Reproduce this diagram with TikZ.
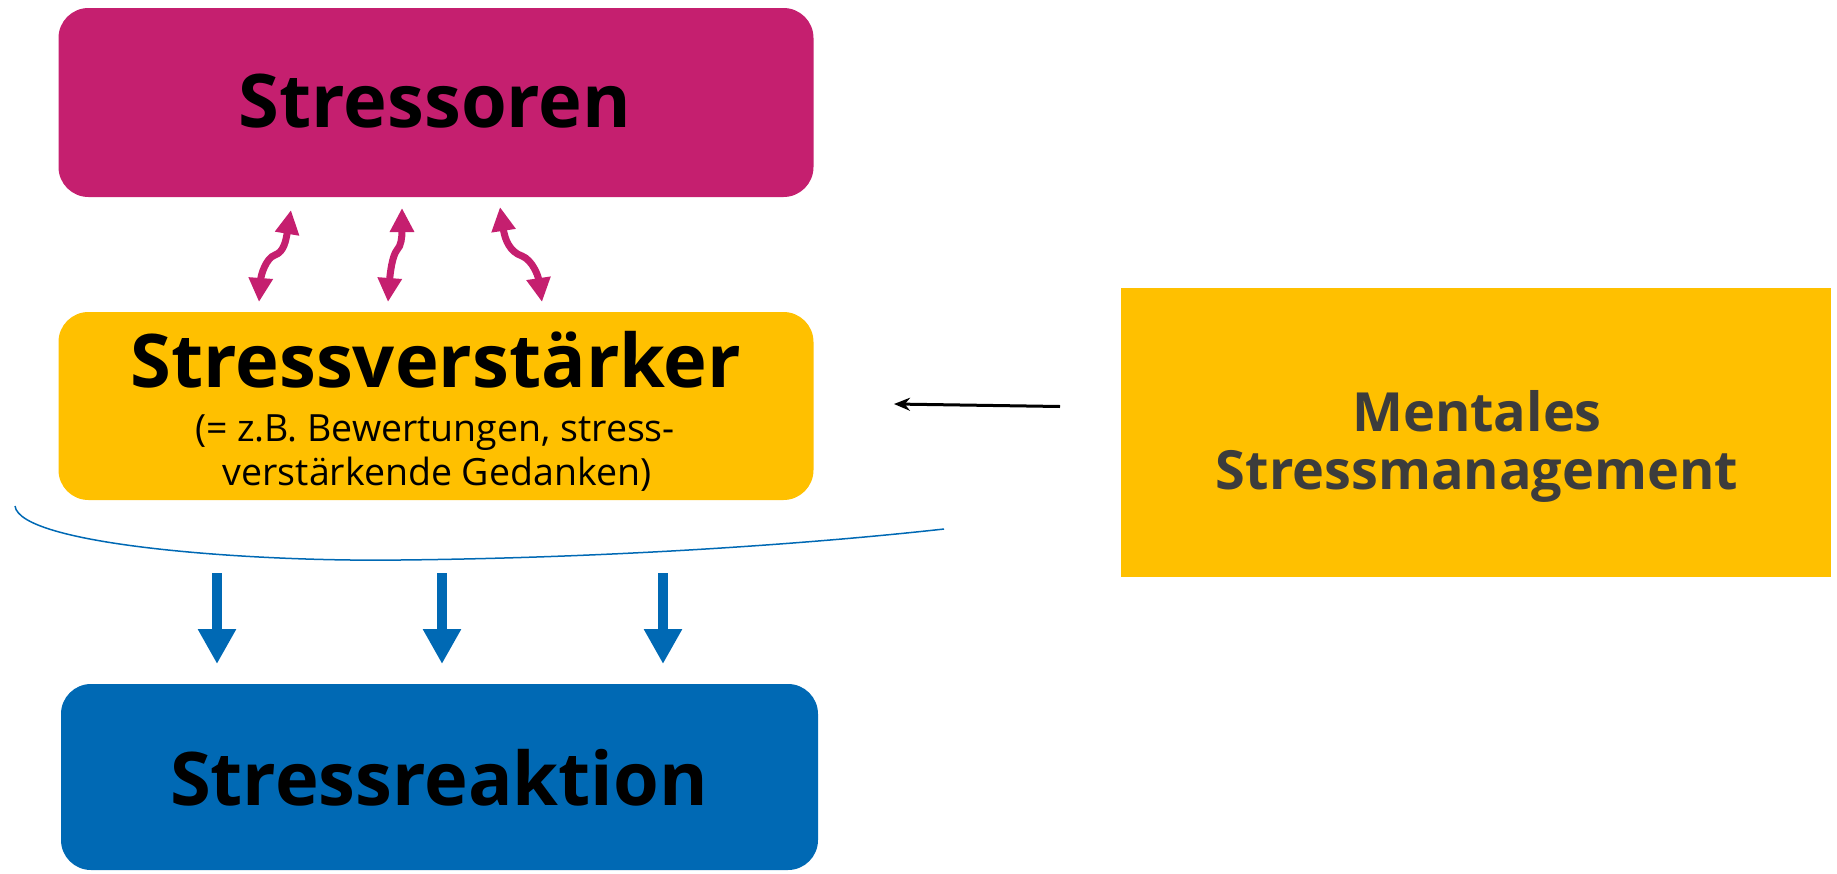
\documentclass[tikz,border=0pt]{standalone}
\usepackage{fontspec}
\setmainfont{Open Sans}
\usetikzlibrary{arrows.meta}

\definecolor{stressmagenta}{HTML}{C51F6F}
\definecolor{stressyellow}{HTML}{FFC000}
\definecolor{stressblue}{HTML}{0069B4}
\definecolor{stressgray}{HTML}{3C3C3C}

\begin{document}
\begin{tikzpicture}[x=1pt, y=-1pt]
        % Box sizes (in pixels of the original)
        \pgfmathsetmacro{\boxwidth}{755}
        \pgfmathsetmacro{\boxheight}{189}
        \pgfmathsetmacro{\radius}{30}

        \useasboundingbox (0, 0) rectangle (1837, 873);

        % Three stacked boxes on the left
        \begin{scope}[inner sep=0pt, rounded corners=\radius pt]
            \node[fill=stressmagenta, minimum width=\boxwidth pt, minimum height=\boxheight pt] (stressors) at (436, 102.5) {};
            \node[fill=stressyellow, minimum width=\boxwidth pt, minimum height=188pt] (amplifier) at (436, 406) {};
            \node[fill=stressblue, minimum width=757pt, minimum height=186pt] (reaction) at (439.5, 777) {};
        \end{scope}

        % Management box on the right, square corners
        \node[fill=stressyellow, inner sep=0pt, minimum width=710pt, minimum height=289pt] (management) at (1476, 432.5) {};

        % Texts, placed on their base lines
        \begin{scope}[anchor=base, font=\fontsize{74}{80}\selectfont\bfseries]
            \node (stressorsText) at (435, 127.5) {Stressoren};
            \node (amplifierText) at (436, 387) {Stressverstärker};
            \node (reactionText) at (439, 805) {Stressreaktion};
        \end{scope}
        \begin{scope}[anchor=base, font=\fontsize{37.5}{42}\selectfont]
            \node (amplifierSub1) at (435, 441) {(= z.B. Bewertungen, stress-};
            \node (amplifierSub2) at (437, 485) {verstärkende Gedanken)};
        \end{scope}
        \begin{scope}[anchor=base, text=stressgray, font=\fontsize{54}{58}\selectfont\bfseries]
            \node (managementText1) at (1477, 431) {Mentales};
            \node (managementText2) at (1477, 489) {Stressmanagement};
        \end{scope}

        % Ends of the curved double arrows
        \coordinate (T1) at (291, 210);
        \coordinate (B1) at (259, 302);
        \coordinate (T2) at (402, 208);
        \coordinate (B2) at (388, 302);
        \coordinate (T3) at (500, 207);
        \coordinate (B3) at (542, 302);

        \begin{scope}[stressmagenta, line width=7pt, {Triangle[length=24pt, width=23pt]}-{Triangle[length=24pt, width=23pt]}]
            \draw (T1) .. controls (286, 240) and (284, 252) .. (275, 255) .. controls (266, 258) and (261, 275) .. (B1);
            \draw (T2) .. controls (402, 238) and (401, 246) .. (397, 250) .. controls (392, 256) and (390, 275) .. (B2);
            \draw (T3) .. controls (505, 240) and (510, 252) .. (522, 256) .. controls (532, 260) and (538, 275) .. (B3);
        \end{scope}

        % Thin bracket under the amplifier box
        \coordinate (C0) at (15, 506);
        \coordinate (C1) at (400, 560);
        \coordinate (C2) at (944, 529);
        \draw[stressblue, line width=1.5pt] (C0) .. controls (20, 545) and (250, 562) .. (C1) .. controls (600, 558) and (800, 545) .. (C2);

        % Block arrows down to the reaction
        \coordinate (D1) at (217, 573);
        \coordinate (E1) at (217, 664);
        \coordinate (D2) at (442, 573);
        \coordinate (E2) at (442, 664);
        \coordinate (D3) at (663, 573);
        \coordinate (E3) at (663, 664);

        \begin{scope}[stressblue, line width=10pt, -{Triangle[length=35pt, width=36pt]}]
            \draw (D1) -- (E1);
            \draw (D2) -- (E2);
            \draw (D3) -- (E3);
        \end{scope}

        % Arrow from management to the amplifier
        \coordinate (M0) at (1060, 406.5);
        \coordinate (M1) at (894, 404);
        \draw[line width=3pt, -{Stealth[length=16pt, width=13pt]}] (M0) -- (M1);

    \end{tikzpicture}
\end{document}
